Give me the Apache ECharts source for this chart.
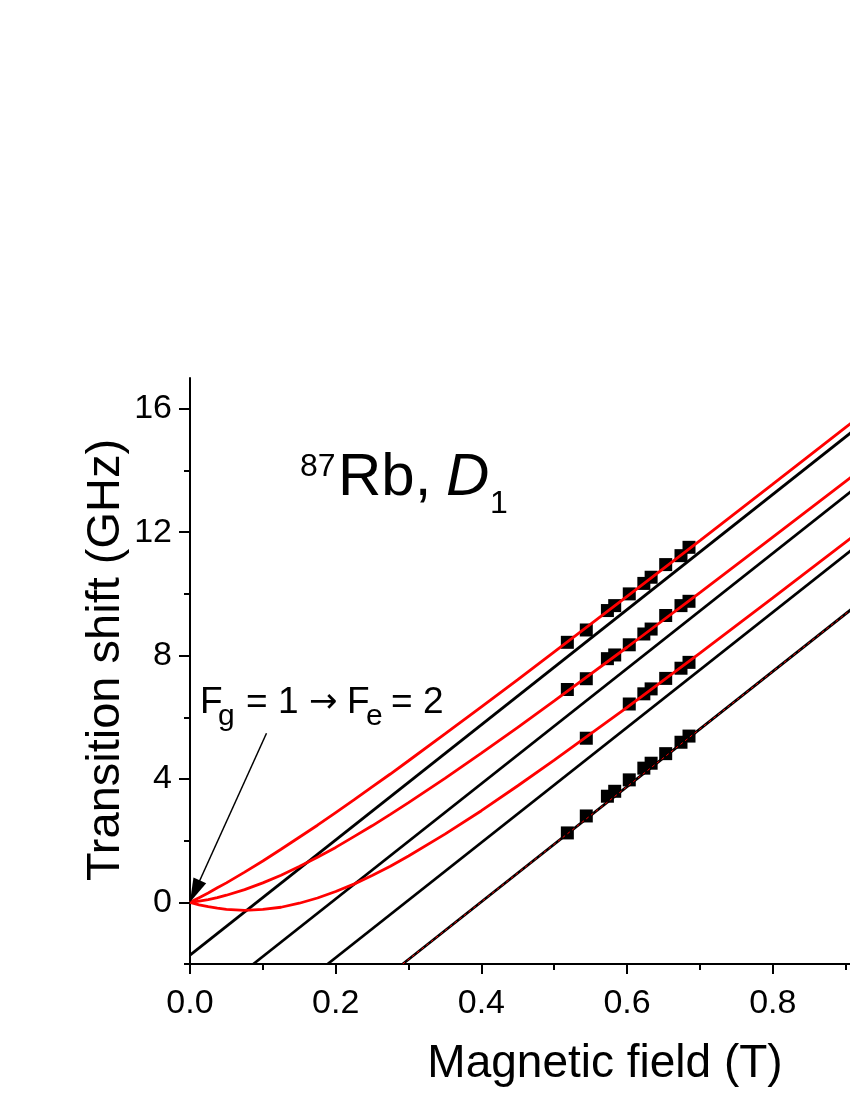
<!DOCTYPE html>
<html>
<head>
<meta charset="utf-8">
<script src="https://cdn.jsdelivr.net/npm/echarts@6/dist/echarts.min.js"></script>
<style>
  html, body { margin: 0; padding: 0; background: #fff; }
  #main { width: 850px; height: 1100px; }
</style>
</head>
<body>
<div id="main"></div>
<script>
// magnetic field grid for the calculated (red) curves, T
var fieldT = [0, 0.0125, 0.025, 0.0375, 0.05, 0.075, 0.1, 0.125, 0.15, 0.175, 0.2, 0.225,
              0.25, 0.275, 0.3, 0.35, 0.4, 0.45, 0.5, 0.6, 0.7, 0.8, 0.9, 0.91];
// calculated transition shifts, GHz
var calc1 = [0, 0.15, 0.30, 0.47, 0.63, 0.98, 1.34, 1.72, 2.11, 2.50, 2.91, 3.32,
             3.74, 4.16, 4.59, 5.46, 6.34, 7.22, 8.12, 9.92, 11.73, 13.56, 15.40, 15.58];
var calc2 = [0, 0.04, 0.09, 0.15, 0.23, 0.41, 0.63, 0.88, 1.16, 1.46, 1.78, 2.13,
             2.48, 2.85, 3.23, 4.02, 4.84, 5.67, 6.53, 8.27, 10.04, 11.84, 13.65, 13.83];
var calc3 = [0, -0.08, -0.14, -0.19, -0.23, -0.26, -0.23, -0.16, -0.03, 0.14, 0.35, 0.59,
             0.87, 1.17, 1.50, 2.21, 2.97, 3.78, 4.61, 6.32, 8.08, 9.87, 11.68, 11.86];
var calc4 = [[0.292, -2], [0.91, 9.54]];

// high-field asymptotes (black straight lines)
var asym1 = [[0, -1.71], [0.91, 15.28]];
var asym2 = [[0.087, -2], [0.91, 13.37]];
var asym3 = [[0.189, -2], [0.91, 11.46]];
var asym4 = [[0.292, -2], [0.91, 9.54]];

// measured points
var measX = [0.518, 0.544, 0.573, 0.583, 0.603, 0.623, 0.633, 0.653, 0.674, 0.685];
var meas1 = [8.43, 8.83, 9.46, 9.62, 10.00, 10.34, 10.54, 10.95, 11.24, 11.51];
var meas2 = [6.90, 7.25, 7.90, 8.02, 8.35, 8.70, 8.86, 9.30, 9.62, 9.76];
var meas3X = [0.544, 0.603, 0.623, 0.633, 0.653, 0.674, 0.685];
var meas3 = [5.32, 6.43, 6.76, 6.92, 7.26, 7.59, 7.78];
var meas4 = [2.25, 2.80, 3.44, 3.60, 3.97, 4.35, 4.51, 4.82, 5.19, 5.39];

// ticks
var xMajor = [0, 0.2, 0.4, 0.6, 0.8];
var xMinor = [0.1, 0.3, 0.5, 0.7, 0.9];
var yMajor = [0, 4, 8, 12, 16];
var yMinor = [-2, 2, 6, 10, 14];

var FONT = '"Liberation Sans", Arial, sans-serif';

function pairs(xs, ys) {
  var out = [];
  for (var i = 0; i < xs.length; i++) out.push([xs[i], ys[i]]);
  return out;
}

var myChart = echarts.init(document.getElementById('main'), null, { renderer: 'canvas' });

function blackLine(d) {
  return {
    type: 'line', data: d, showSymbol: false, symbol: 'none', z: 3,
    lineStyle: { color: '#000', width: 2.8 }
  };
}
function redCurve(d) {
  return {
    type: 'line', data: d, showSymbol: false, symbol: 'none', z: 4,
    lineStyle: { color: '#ff0000', width: 2.8 }
  };
}
function measured(d) {
  return {
    type: 'scatter', data: d, symbol: 'rect', symbolSize: 13, z: 2,
    itemStyle: { color: '#000', opacity: 1 }
  };
}

var red1 = redCurve(pairs(fieldT, calc1));
// arrow pointing at the F_g = 1 -> F_e = 2 start point
red1.markLine = {
  silent: true,
  symbol: ['none', 'triangle'],
  symbolSize: [14, 24],
  label: { show: false },
  lineStyle: { color: '#000', width: 1.5, type: 'solid' },
  data: [[{ coord: [0.105, 5.48] }, { coord: [0.0067, 0.36] }]]
};

function txt(x, y, s, size, extra) {
  var st = { text: s, fontSize: size, fontFamily: FONT, fill: '#000', verticalAlign: 'middle' };
  for (var k in extra || {}) st[k] = extra[k];
  return { type: 'text', x: x, y: y, style: st };
}

var option = {
  animation: false,
  backgroundColor: '#fff',
  grid: { left: 190, right: 0, top: 378, bottom: 136, outerBoundsMode: 'none' },
  xAxis: [{
    type: 'value', min: 0, max: 0.906, position: 'bottom',
    axisLine: { onZero: false, lineStyle: { color: '#000', width: 2 } },
    axisTick: { customValues: xMajor, length: 10, lineStyle: { color: '#000', width: 2 } },
    axisLabel: {
      customValues: xMajor, margin: 23, color: '#000', fontSize: 34, fontFamily: FONT,
      formatter: function (v) { return v.toFixed(1); }
    },
    splitLine: { show: false },
    name: 'Magnetic field (T)', nameLocation: 'middle', nameGap: 77, nameMoveOverlap: false,
    nameTextStyle: { color: '#000', fontSize: 46, fontFamily: FONT, padding: [0, 0, 0, 170] }
  }, {
    type: 'value', min: 0, max: 0.906, position: 'bottom',
    axisLine: { show: false, onZero: false },
    axisTick: { customValues: xMinor, length: 6, lineStyle: { color: '#000', width: 2 } },
    axisLabel: { show: false },
    splitLine: { show: false }
  }],
  yAxis: [{
    type: 'value', min: -2, max: 17, position: 'left',
    axisLine: { show: true, onZero: false, lineStyle: { color: '#000', width: 2 } },
    axisTick: { show: true, customValues: yMajor, length: 11, lineStyle: { color: '#000', width: 2 } },
    axisLabel: { customValues: yMajor, margin: 18, color: '#000', fontSize: 34, fontFamily: FONT },
    splitLine: { show: false },
    name: 'Transition shift (GHz)', nameLocation: 'middle', nameGap: 60, nameRotate: 90,
    nameMoveOverlap: false,
    nameTextStyle: { color: '#000', fontSize: 47, fontFamily: FONT, padding: [0, 0, 0, 22] }
  }, {
    type: 'value', min: -2, max: 17, position: 'left',
    axisLine: { show: false, onZero: false },
    axisTick: { show: true, customValues: yMinor, length: 6, lineStyle: { color: '#000', width: 2 } },
    axisLabel: { show: false },
    splitLine: { show: false }
  }],
  series: [
    measured(pairs(measX, meas1)),
    measured(pairs(measX, meas2)),
    measured(pairs(meas3X, meas3)),
    measured(pairs(measX, meas4)),
    blackLine(asym1),
    blackLine(asym2),
    blackLine(asym3),
    blackLine(asym4),
    red1,
    redCurve(pairs(fieldT, calc2)),
    redCurve(pairs(fieldT, calc3)),
    {
      type: 'line', data: calc4, showSymbol: false, symbol: 'none', z: 5,
      lineStyle: { color: '#ff0000', width: 1, type: [3, 3] }
    }
  ],
  graphic: [
    txt(300, 467, '87', 32),
    txt(338, 478, 'Rb,', 60),
    txt(446, 478, 'D', 60, { fontStyle: 'italic' }),
    txt(490, 504, '1', 32),
    txt(200, 703, 'F', 37),
    txt(218, 717, 'g', 30),
    txt(246, 703, '= 1', 37),
    txt(309, 703, '\u2192', 34, { fontFamily: '"DejaVu Sans", sans-serif' }),
    txt(347, 703, 'F', 37),
    txt(366, 717, 'e', 30),
    txt(391, 703, '= 2', 37)
  ]
};

myChart.setOption(option);
</script>
</body>
</html>
